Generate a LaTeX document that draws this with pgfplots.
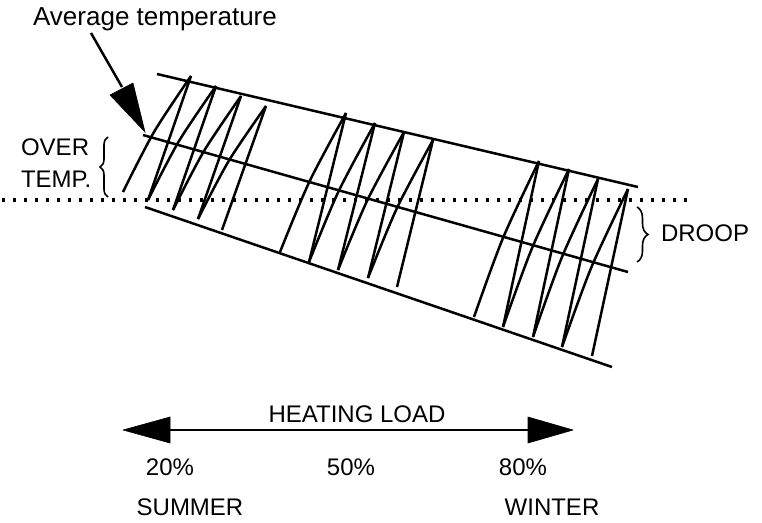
\documentclass[border=0pt]{standalone}
\usepackage{pgfplots}
\pgfplotsset{compat=1.18}
\usepackage{fontspec}
\setmainfont{Liberation Sans}
\usetikzlibrary{decorations.pathreplacing}
\begin{document}
\begin{tikzpicture}
\begin{axis}[
  width=381pt, height=260pt, scale only axis, hide axis,
  xmin=0, xmax=762, ymin=0, ymax=520, y dir=reverse, clip=false,
  ln/.style={black, line width=1.25pt, mark=none},
  sm/.style={black, line width=1.25pt, mark=none, smooth},
  hd/.style={black, fill=black, line width=0.3pt, mark=none},
]
% frame for bounding box
\addplot[draw=none, mark=none] coordinates {(0,0) (762,520)};
% dotted set-point line
\addplot[black, mark=none, line width=1.6pt, dash pattern=on 1.6pt off 3.9pt] coordinates {(2,200) (690,200)};
% envelope lines
\addplot[ln] coordinates {(157,74) (638,187)};
\addplot[ln] coordinates {(143,135) (628,272)};
\addplot[ln] coordinates {(145,207) (612,367)};
% group 1 (20%)
\addplot[sm] coordinates {(123,192) (154,132) (191,76)};
\addplot[ln] coordinates {(191,76) (148,200)};
\addplot[sm] coordinates {(148,200) (179,141) (216,86)};
\addplot[ln] coordinates {(216,86) (173,210)};
\addplot[sm] coordinates {(173,210) (204,151) (241,96)};
\addplot[ln] coordinates {(241,96) (198,219)};
\addplot[sm] coordinates {(198,219) (229,160.5) (266,106)};
\addplot[ln] coordinates {(266,106) (222,230)};
% group 2 (50%)
\addplot[sm] coordinates {(280,252) (309.5,181.5) (346,113)};
\addplot[ln] coordinates {(346,113) (309,262)};
\addplot[sm] coordinates {(309,262) (338.5,191.5) (375,123)};
\addplot[ln] coordinates {(375,123) (338,270)};
\addplot[sm] coordinates {(338,270) (367.5,200) (404,132)};
\addplot[ln] coordinates {(404,132) (368,278)};
\addplot[sm] coordinates {(368,278) (397,208) (433,140)};
\addplot[ln] coordinates {(433,140) (397,287)};
% group 3 (80%)
\addplot[sm] coordinates {(474,317) (503,238) (539,161)};
\addplot[ln] coordinates {(539,161) (503,327)};
\addplot[sm] coordinates {(503,327) (532.5,247) (569,169)};
\addplot[ln] coordinates {(569,169) (533,337)};
\addplot[sm] coordinates {(533,337) (562,257) (598,179)};
\addplot[ln] coordinates {(598,179) (562,347)};
\addplot[sm] coordinates {(562,347) (591.5,267) (628,189)};
\addplot[ln] coordinates {(628,189) (592,356)};
% average temperature arrow
\addplot[ln] coordinates {(91,33) (122,87)};
\addplot[hd] coordinates {(110,95) (133,83) (145,132) (110,95)};
% heating load arrow
\addplot[ln] coordinates {(165,430) (533,430)};
\addplot[hd] coordinates {(123,430) (170,417) (170,443) (123,430)};
\addplot[hd] coordinates {(573,430) (528,417) (528,443) (573,430)};
% braces
\addplot[black, mark=none, line width=0.8pt, decorate, decoration={brace, amplitude=4pt}] coordinates {(108,197) (108,137)};
\addplot[black, mark=none, line width=0.8pt, decorate, decoration={brace, amplitude=5.5pt}] coordinates {(637,207) (637,262)};
% texts
\node[font=\fontsize{13}{15}\selectfont] at (axis cs:155,19) {Average temperature};
\node[font=\fontsize{12}{14}\selectfont, anchor=west] at (axis cs:14,147) {OVER};
\node[font=\fontsize{12}{14}\selectfont, anchor=west] at (axis cs:14,179) {TEMP.};
\node[font=\fontsize{12}{14}\selectfont, anchor=west] at (axis cs:654,233) {DROOP};
\node[font=\fontsize{12}{14}\selectfont] at (axis cs:357,414) {HEATING LOAD};
\node[font=\fontsize{12}{14}\selectfont] at (axis cs:170,467) {20\%};
\node[font=\fontsize{12}{14}\selectfont] at (axis cs:351,467) {50\%};
\node[font=\fontsize{12}{14}\selectfont] at (axis cs:523,467) {80\%};
\node[font=\fontsize{12}{14}\selectfont] at (axis cs:190,507) {SUMMER};
\node[font=\fontsize{12}{14}\selectfont] at (axis cs:552,507) {WINTER};
\end{axis}
\end{tikzpicture}
\end{document}
